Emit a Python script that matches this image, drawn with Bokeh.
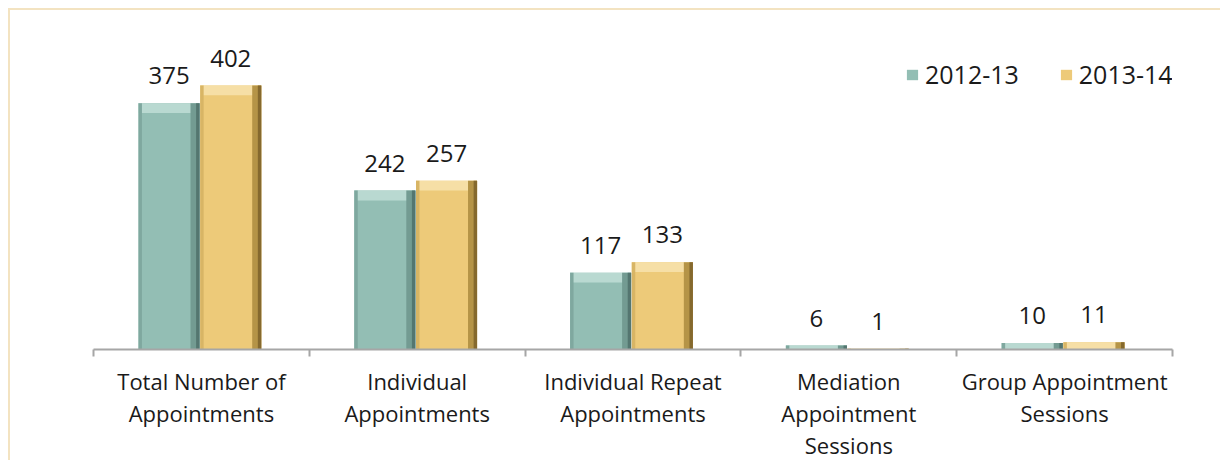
from bokeh.plotting import figure
from bokeh.models import (ColumnDataSource, Range1d, LinearAxis,
                          FixedTicker, LabelSet, Legend, LegendItem)
from bokeh.transform import dodge
from bokeh.core.properties import value
from bokeh.embed import file_html
from bokeh.resources import INLINE

# ---- data ----
categories = [
    "Total Number of\nAppointments",
    "Individual\nAppointments",
    "Individual Repeat\nAppointments",
    "Mediation\nAppointment\nSessions",
    "Group Appointment\nSessions",
]
series_names = ["2012-13", "2013-14"]
values_2012_13 = [375, 242, 117, 6, 10]
values_2013_14 = [402, 257, 133, 1, 11]

FONT = "Open Sans"
TEXT = "#1a1a1a"
BEVEL = 15  # data units for top bevel band

n = len(categories)
centers = [i + 0.5 for i in range(n)]
edges = list(range(n + 1))

p = figure(
    width=1212, height=452,
    x_range=Range1d(0, n),
    y_range=Range1d(0, 501),
    x_axis_location=None, y_axis_location=None,
    toolbar_location=None, output_backend="svg",
    min_border_left=83, min_border_right=50, min_border_top=10, min_border_bottom=111,
)
p.outline_line_color = None
p.xgrid.visible = False
p.ygrid.visible = False
p.background_fill_color = "white"
p.border_fill_color = "white"
p.styles = {"margin-left": "8px", "margin-top": "8px",
            "border-top": "2px solid #F3E3C1", "border-left": "2px solid #F3E3C1"}

# edge ticks axis (category boundaries)
edge_axis = LinearAxis(ticker=FixedTicker(ticks=edges))
edge_axis.major_label_overrides = {e: "" for e in edges}
edge_axis.axis_line_color = "#A6A6A6"
edge_axis.axis_line_width = 2
edge_axis.major_tick_line_color = "#A6A6A6"
edge_axis.major_tick_line_width = 2
edge_axis.major_tick_out = 7
edge_axis.major_tick_in = 0
edge_axis.minor_tick_line_color = None
edge_axis.major_label_text_font_size = "0px"
edge_axis.major_label_standoff = 0
p.add_layout(edge_axis, "below")

# category label axis
cat_axis = LinearAxis(ticker=FixedTicker(ticks=centers))
cat_axis.major_label_overrides = {c: lab for c, lab in zip(centers, categories)}
cat_axis.axis_line_color = None
cat_axis.major_tick_line_color = None
cat_axis.minor_tick_line_color = None
cat_axis.major_label_text_font = FONT
cat_axis.major_label_text_font_size = "22px"
cat_axis.major_label_text_color = TEXT
cat_axis.major_label_text_line_height = 1.07
cat_axis.major_label_standoff = 3
p.add_layout(cat_axis, "below")

series = [
    (values_2012_13, -0.150, "#93BEB4", "#B9D9D1", "#547670", "#739B92", "#7FA89F"),
    (values_2013_14, 0.136, "#EDCA79", "#F6DFA6", "#85692E", "#B59447", "#D8B565"),
]
W = 0.283
main_renderers = []
for vals, off, main, light, dark, mid, left in series:
    src = ColumnDataSource(dict(
        x=centers,
        top=vals,
        bevel_bottom=[max(v - BEVEL, 0) for v in vals],
        label=[str(v) for v in vals],
    ))
    r = p.vbar(x=dodge("x", off), top="top", bottom=0, width=W,
               fill_color=main, line_color=None, source=src)
    main_renderers.append(r)
    # top bevel
    p.vbar(x=dodge("x", off), top="top", bottom="bevel_bottom", width=W,
           fill_color=light, line_color=None, source=src)
    # left edge
    p.vbar(x=dodge("x", off - W / 2 + 0.008), top="top", bottom=0, width=0.016,
           fill_color=left, line_color=None, source=src)
    # right bevel (two tones)
    p.vbar(x=dodge("x", off + W / 2 - 0.021), top="top", bottom=0, width=0.042,
           fill_color=mid, line_color=None, source=src)
    p.vbar(x=dodge("x", off + W / 2 - 0.008), top="top", bottom=0, width=0.016,
           fill_color=dark, line_color=None, source=src)
    labels = LabelSet(x=dodge("x", off), y="top", text="label", source=src,
                      text_align="center", text_baseline="alphabetic", y_offset=19,
                      text_font=value(FONT), text_font_size="24px", text_color=TEXT)
    p.add_layout(labels)

legend = Legend(
    items=[LegendItem(label=series_names[i], renderers=[main_renderers[i]]) for i in range(2)],
    orientation="horizontal", location=(812, 258),
    border_line_color=None, background_fill_alpha=0,
    padding=0, margin=0, spacing=40, label_standoff=6,
    glyph_width=14, glyph_height=13,
    label_text_font=FONT, label_text_font_size="25px", label_text_color=TEXT,
)
p.add_layout(legend)

open("out.html", "w").write(file_html(p, INLINE))
